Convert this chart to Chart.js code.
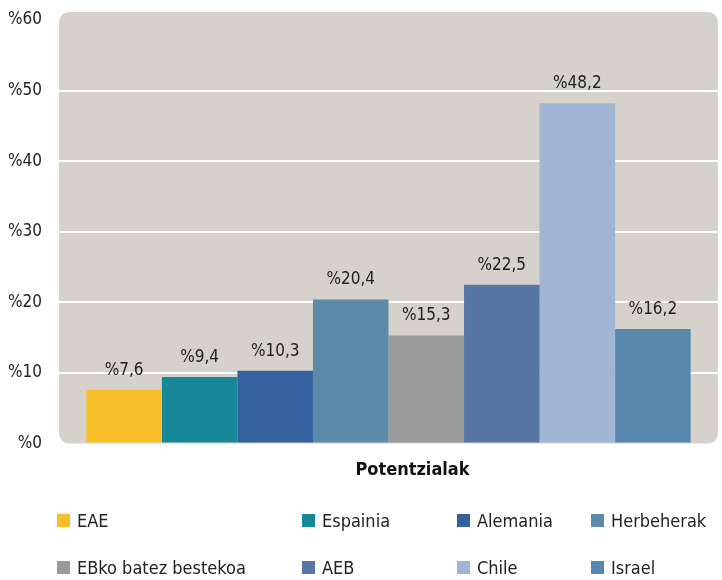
<!DOCTYPE html>
<html>
<head>
<meta charset="utf-8">
<script src="https://cdn.jsdelivr.net/npm/chart.js@4.4.0/dist/chart.umd.min.js"></script>
<style>
  html, body { margin: 0; padding: 0; background: #fff; }
  #wrap { position: relative; width: 722px; height: 580px; }
  #box { position: absolute; left: 0; top: 0; width: 722px; height: 493px; }
  #legend { position: absolute; left: 0; top: 0; width: 722px; height: 580px; pointer-events: none; }
  .item { position: absolute; display: flex; align-items: center; font-family: "Liberation Sans Narrow", "DejaVu Sans Condensed", sans-serif; font-size: 18px; color: #222; white-space: nowrap; }
  .sw { width: 13px; height: 13px; margin-right: 7px; }
</style>
</head>
<body>
<div id="wrap">
  <div id="box"><canvas id="myChart"></canvas></div>
  <div id="legend"></div>
</div>
<script>
const categorias = ['Potentzialak'];
const paises = ['EAE', 'Espainia', 'Alemania', 'Herbeherak', 'EBko batez bestekoa', 'AEB', 'Chile', 'Israel'];
const valores = [7.6, 9.4, 10.3, 20.4, 15.3, 22.5, 48.2, 16.2];
const colores = ['#f9bf2a', '#17879a', '#33609f', '#5b8ba8', '#999b9b', '#5677a4', '#a1b5d5', '#5787ad'];
const ticksY = [0, 10, 20, 30, 40, 50, 60];

const fuente = '"Liberation Sans Narrow", "DejaVu Sans Condensed", sans-serif';

const fondo = {
    id: 'fondo',
    beforeDraw(chart) {
        const { ctx, chartArea } = chart;
        const x = chartArea.left, y = chartArea.top - 8;
        const w = chartArea.right - chartArea.left, h = chartArea.bottom - y;
        ctx.save();
        ctx.fillStyle = '#d6d1ca';
        ctx.beginPath();
        ctx.roundRect(x, y, w, h, 10);
        ctx.fill();
        ctx.restore();
    }
};

const etiquetas = {
    id: 'etiquetas',
    afterDatasetsDraw(chart) {
        const { ctx } = chart;
        ctx.save();
        ctx.font = '17px ' + fuente;
        ctx.fillStyle = '#222';
        ctx.textAlign = 'center';
        ctx.textBaseline = 'alphabetic';
        chart.data.datasets.forEach((ds, i) => {
            const bar = chart.getDatasetMeta(i).data[0];
            ctx.fillText('%' + String(ds.data[0]).replace('.', ','), bar.x, bar.y - 15);
        });
        ctx.restore();
    }
};

const ctx = document.getElementById('myChart').getContext('2d');
const myChart = new Chart(ctx, {
    type: 'bar',
    data: {
        labels: categorias,
        datasets: paises.map((p, i) => ({
            label: p,
            data: [valores[i]],
            backgroundColor: colores[i],
            borderWidth: 0,
            barPercentage: 1,
            categoryPercentage: 0.917
        }))
    },
    options: {
        responsive: true,
        maintainAspectRatio: false,
        animation: false,
        layout: { padding: { left: 0, right: 4, top: 20, bottom: 4 } },
        plugins: {
            legend: { display: false },
            tooltip: { enabled: false }
        },
        scales: {
            x: {
                grid: { display: false },
                border: { display: false },
                ticks: { color: '#111', padding: 8, labelOffset: 24, font: { family: fuente, size: 18, weight: 'bold' } }
            },
            y: {
                min: 0,
                max: 60,
                afterBuildTicks(axis) { axis.ticks = ticksY.map(v => ({ value: v })); },
                afterFit(axis) { axis.width = 59; axis.paddingTop = 0; axis.paddingBottom = 0; },
                grid: {
                    color: c => (c.tick.value === 0 || c.tick.value === 60) ? 'rgba(0,0,0,0)' : '#ffffff',
                    lineWidth: 2,
                    drawTicks: false
                },
                border: { display: false },
                ticks: {
                    color: '#222',
                    padding: 17,
                    font: { family: fuente, size: 17 },
                    callback: v => '%' + v
                }
            }
        }
    },
    plugins: [fondo, etiquetas]
});

// leyenda en dos filas de cuatro
const colsX = [57, 302, 457, 591];
const filasY = [510, 557];
const leyenda = document.getElementById('legend');
paises.forEach((p, i) => {
    const d = document.createElement('div');
    d.className = 'item';
    d.style.left = colsX[i % 4] + 'px';
    d.style.top = filasY[Math.floor(i / 4)] + 'px';
    d.innerHTML = `<span class="sw" style="background:${colores[i]}"></span><span>${p}</span>`;
    leyenda.appendChild(d);
});
</script>
</body>
</html>
